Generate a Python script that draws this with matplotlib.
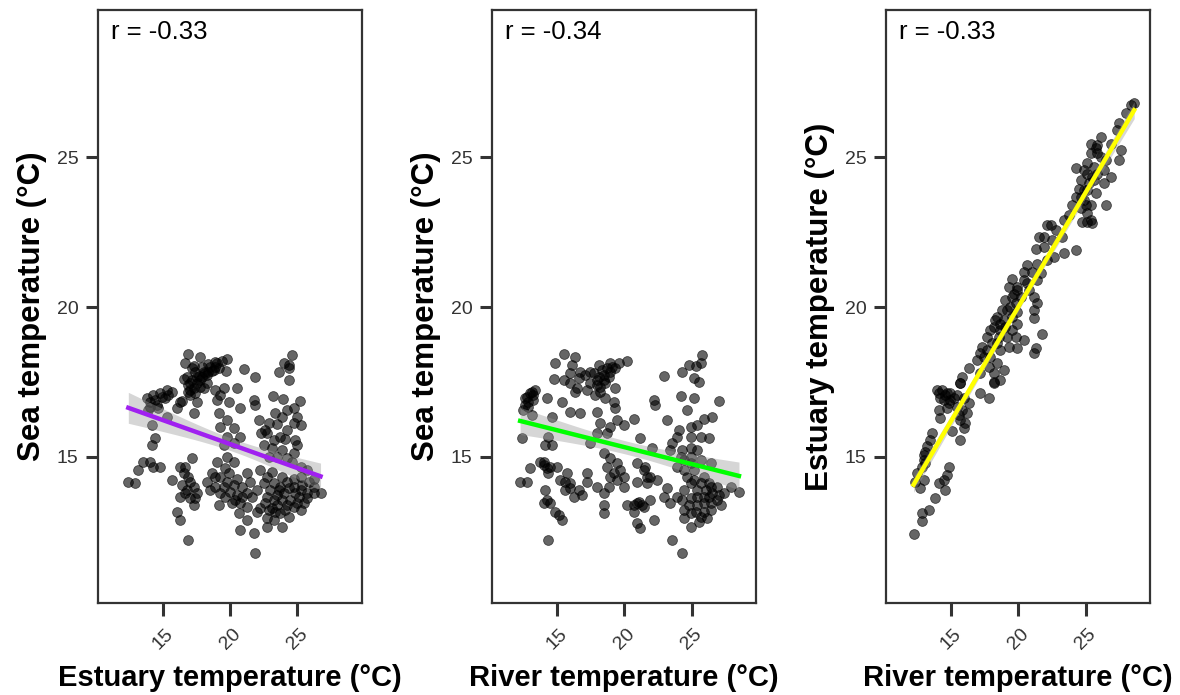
import numpy as np
import matplotlib.pyplot as plt

# panel 1: estuary vs sea
est_x1 = [16.89, 17.76, 16.64, 17.27, 16.52, 17.02, 17.51, 18.01, 18.51, 19.01, 19.38, 19.75,
          18.76, 18.26, 17.76, 17.27, 16.89, 17.76, 18.26, 18.88, 19.5, 19.7, 21.0, 21.82,
          20.5, 17.51, 16.39, 17.02, 19.01, 19.88, 19.26,
          24.6, 23.98, 24.35, 23.66, 24.35, 24.35, 23.16, 23.93, 25.18, 21.74, 21.87, 20.75,
          14.03, 14.4, 14.78, 15.28, 15.65, 15.15, 13.78, 14.65, 15.28, 16.02, 16.27, 17.27,
          14.16, 14.4, 14.16, 13.16, 13.53, 14.28, 14.78, 14.03, 12.41, 12.91,
          16.27, 17.14, 16.64, 16.89, 16.39, 16.77, 17.27, 17.51, 17.02, 16.27, 17.27, 15.65,
          16.02, 16.27, 16.89,
          19.13, 19.75, 20.25, 19.26, 19.75, 20.25, 19.5, 20.75, 19.75, 20.25, 19.01, 18.63,
          19.26, 19.88, 20.5, 21.25, 18.26, 18.88, 19.5, 20.25, 20.87, 21.49, 20.5, 21.25,
          21.99, 19.13, 20.13, 20.75, 21.25, 20.62, 21.25, 20.75, 21.74, 21.87, 18.51, 19.63,
          22.12, 22.86, 22.74, 23.24, 23.73, 24.23, 24.73, 25.23, 24.98, 23.86, 24.23, 24.73,
          23.36, 22.49, 23.11, 23.86, 24.85, 24.73, 24.23, 25.23, 25.72, 23.48, 22.86,
          22.24, 22.74, 23.24, 23.73, 24.23, 24.73, 25.23, 25.72, 26.22, 26.72, 22.74, 23.24,
          23.86, 24.48, 25.1, 25.47, 22.24, 22.86, 23.36, 24.11, 24.73, 23.24, 23.86, 22.74,
          21.99, 25.23, 23.61, 21.62,
          16.77, 17.14, 17.39, 17.64, 17.89, 18.14, 18.38, 18.63, 18.88, 19.13, 16.82, 17.14,
          17.51, 17.89, 18.38, 18.88, 17.02, 17.39, 18.01,
          22.49, 22.99, 23.48, 23.98, 24.35, 24.85, 25.35, 25.85, 26.22, 23.48, 24.23, 24.98,
          25.72, 22.61, 23.11, 23.73, 24.35, 22.74, 24.73, 23.86, 23.11, 25.23, 26.22, 24.6,
          19.75, 19.26, 20.0, 20.87, 20.37, 18.88, 19.63,
          16.52, 17.02, 16.64, 17.39,
          14.28, 14.9, 15.4, 14.03, 14.53, 13.91,
          22.6, 23.5, 24.1, 22.3, 25.0]
sea_y1 = [18.43, 18.34, 18.12, 18.03, 17.59, 17.45, 17.67, 17.84, 18.01, 18.12, 18.21, 18.25,
          17.9, 17.73, 17.56, 17.29, 17.17, 17.34, 17.45, 17.23, 17.29, 17.87, 17.92, 17.67,
          17.29, 16.84, 16.87, 17.06, 16.9, 16.84, 17.06,
          18.4, 18.12, 18.06, 17.84, 17.95, 17.56, 17.03, 16.92, 16.86, 16.9, 16.73, 16.62,
          16.67, 16.9, 17.12, 17.23, 17.17, 16.95, 16.95, 16.62, 16.34, 16.62, 16.84, 16.45,
          16.06, 15.62, 15.4, 14.56, 14.84, 14.67, 14.67, 14.84, 14.17, 14.14,
          14.67, 14.95, 14.67, 14.34, 14.06, 13.9, 14.01, 13.79, 13.62, 13.67, 13.4, 14.23,
          13.17, 12.9, 12.23,
          16.45, 16.23, 15.95, 16.0, 15.67, 15.45, 15.4, 15.67, 15.01, 14.84, 14.84, 14.45,
          14.34, 14.45, 14.28, 14.45, 14.17, 14.01, 14.01, 14.06, 14.01, 14.17, 13.73, 13.79,
          13.9, 13.4, 13.45, 13.45, 13.34, 13.12, 12.9, 12.56, 12.45, 11.79, 13.9, 13.67,
          16.23, 16.12, 15.79, 15.56, 15.67, 15.9, 16.12, 16.06, 16.34, 16.34, 16.56, 16.62,
          16.45, 15.4, 15.29, 15.23, 15.56, 15.12, 14.95, 14.67, 14.56, 15.01, 15.01,
          14.56, 14.34, 14.12, 14.01, 14.17, 14.01, 13.9, 13.79, 14.01, 13.81, 13.67, 13.56,
          13.56, 13.56, 13.67, 13.45, 13.29, 13.23, 13.17, 13.23, 13.34, 12.9, 12.67, 12.95,
          13.17, 13.23, 13.9, 13.67,
          17.67, 17.95, 17.84, 17.7, 17.99, 17.8, 18.09, 17.85, 18.17, 17.95, 17.4, 17.56,
          17.45, 17.67, 17.84, 17.99, 17.23, 17.12, 17.29,
          14.12, 13.9, 13.73, 13.79, 13.95, 13.79, 14.06, 14.17, 13.79, 13.4, 13.4, 13.45,
          13.62, 13.45, 13.29, 13.12, 13.01, 12.67, 14.28, 14.34, 14.51, 14.34, 14.28, 14.84,
          14.17, 13.79, 13.84, 13.67, 13.56, 14.34, 14.62,
          14.45, 14.17, 13.79, 13.62,
          17.06, 17.0, 17.06, 16.84, 16.73, 16.56,
          15.9, 16.1, 15.6, 15.8, 15.4]

# panel 2: river vs sea
riv_x2 = [15.47, 16.34, 14.85, 16.09, 15.97, 16.72, 17.46, 18.08, 18.96, 19.58, 20.2, 14.73,
          15.47, 15.97, 16.47, 16.34, 17.21, 17.96, 18.46, 18.96, 19.33, 18.58, 18.21, 17.84,
          18.58, 19.33, 19.2, 19.33, 17.96, 16.72, 15.97, 15.35, 14.23, 14.6, 12.61, 12.99,
          13.36, 12.86, 13.23, 12.49, 12.36, 14.35, 14.6, 14.1, 13.11, 19.45, 19.95, 20.7,
          18.96, 18.21, 18.71, 17.46, 17.96, 21.19, 22.94, 24.18, 24.3, 24.8, 25.3, 25.8,
          25.67, 25.17, 25.55, 25.17, 24.68, 24.93, 25.42, 25.92, 26.54, 27.04, 22.19, 22.31,
          23.18, 24.05, 23.56, 23.93, 24.93, 25.67, 26.29, 23.43, 24.3, 24.93, 25.42, 22.06,
          18.46, 18.96, 19.45, 18.71, 19.2, 19.95, 20.95, 21.44, 21.94, 21.69, 22.44, 20.95,
          19.95, 18.83, 17.96, 18.46, 17.21, 17.21, 16.59, 16.22, 16.84, 15.6, 15.97, 15.22,
          15.72, 14.98, 14.48, 13.98, 13.73, 14.35, 12.99, 12.24, 12.74, 14.1, 14.23, 13.98,
          14.48, 14.85, 15.35, 15.1, 14.35, 18.46, 18.46, 20.2, 20.95, 21.44, 20.7, 20.95,
          21.19, 22.19, 21.94, 22.94, 23.56, 24.3,
          23.93, 24.43, 24.93, 25.67, 26.42, 25.17, 25.92, 26.29, 26.92, 27.41, 28.53, 27.9,
          24.93, 24.43, 25.42, 25.92, 26.42, 26.92, 24.93, 25.42, 24.43, 24.93, 25.92, 26.17,
          24.43, 24.93, 25.55, 23.93, 23.43, 23.18,
          17.71, 18.08, 18.33, 18.71, 19.08, 18.46, 18.83, 17.96, 17.46, 18.21, 17.09, 16.59,
          12.74, 13.11, 12.86, 13.23, 12.61,
          24.68, 25.17, 25.67, 26.04, 26.54, 27.04, 26.42, 25.42, 25.92, 26.42, 25.3, 24.8,
          24.3, 27.16, 25.67, 26.29, 24.93, 24.43, 24.18,
          20.7, 21.07, 21.32, 18.96, 19.45, 19.7, 21.69, 21.57,
          13.98, 14.23, 15.6, 15.97]
sea_y2 = [18.43, 18.34, 18.12, 18.06, 17.79, 17.84, 17.84, 18.06, 18.12, 18.12, 18.21, 17.59,
          17.56, 17.45, 17.29, 17.17, 17.23, 17.56, 17.73, 17.84, 17.95, 17.45, 17.34, 17.06,
          16.95, 17.29, 16.84, 16.62, 16.51, 16.45, 16.51, 16.84, 16.95, 16.34, 16.95, 17.12,
          17.23, 16.67, 16.9, 16.56, 15.62, 15.67, 15.4, 15.4, 16.4, 16.23, 16.06, 16.28,
          16.0, 16.12, 15.79, 15.45, 15.79, 15.62, 17.7, 17.03, 17.84, 18.06, 18.03, 18.4,
          18.14, 17.62, 17.51, 16.95, 16.56, 16.0, 16.06, 16.28, 16.34, 16.86, 16.9, 16.73,
          16.23, 15.9, 15.45, 15.67, 15.67, 15.67, 15.62, 15.23, 15.23, 15.29, 15.23, 15.29,
          15.12, 14.95, 14.79, 14.67, 14.45, 14.34, 14.79, 14.56, 14.34, 14.12, 14.23, 14.17,
          14.01, 14.01, 14.01, 13.79, 14.17, 14.45, 13.9, 13.67, 13.73, 13.9, 14.12, 14.23,
          14.45, 14.67, 14.67, 14.73, 14.84, 14.45, 14.62, 14.17, 14.17, 13.9, 13.56, 13.45,
          13.45, 13.17, 12.9, 13.06, 12.23, 13.4, 13.12, 13.4, 13.45, 13.34, 13.17, 12.79,
          12.62, 12.9, 13.56, 13.67, 12.23, 11.79,
          14.67, 14.9, 15.01, 14.9, 14.79, 14.56, 14.34, 14.12, 14.01, 13.79, 13.84, 14.01,
          14.12, 13.9, 13.9, 13.67, 13.45, 13.56, 13.62, 13.4, 13.23, 13.12, 13.17, 12.95,
          12.95, 12.67, 12.84, 13.67, 13.45, 13.95,
          17.79, 17.67, 17.9, 17.95, 18.01, 17.56, 17.67, 17.4, 17.45, 17.17, 17.73, 17.62,
          17.01, 17.17, 16.84, 17.06, 16.73,
          14.34, 14.23, 14.12, 13.9, 13.79, 13.73, 14.01, 13.67, 13.45, 13.23, 13.17, 13.4,
          13.56, 13.4, 13.01, 13.67, 14.79, 14.56, 15.01,
          13.4, 13.51, 13.4, 14.34, 14.23, 14.56, 14.34, 14.67,
          14.84, 14.62, 14.17, 13.95]

# panel 3: river vs estuary
riv_x3 = [28.61, 28.36, 27.98, 27.49, 27.36, 26.12, 25.37, 25.87, 26.86, 27.61, 27.49, 25.37,
          25.87, 25.12, 24.25, 24.87, 25.62, 26.36, 26.86, 26.36, 25.62, 24.63, 24.5, 25.12,
          25.75, 24.25, 24.87, 25.37, 26.49, 24.63, 25.12, 24.0, 24.75, 25.5, 23.38, 23.75,
          22.14, 22.39, 22.76, 21.89, 21.52, 22.51, 23.26, 21.27, 21.89, 23.38, 24.25, 22.64,
          22.14, 21.39, 20.65, 21.02, 20.4, 21.64, 21.39, 20.65, 19.9, 19.53, 19.28, 19.65,
          20.15, 20.77, 21.14, 21.39, 21.14, 21.14, 19.03, 19.4, 18.78, 18.41, 18.9, 19.53,
          19.9, 19.9, 18.16, 17.91, 18.66, 19.15, 19.78, 20.4, 21.76, 21.27, 21.14, 17.66,
          17.29, 18.41, 19.28, 19.9, 17.16, 17.91, 18.41, 18.9, 18.16, 17.79, 16.91, 16.29,
          15.8, 15.67, 17.16, 18.16,
          13.93, 14.3, 14.68, 14.43, 14.92, 15.42, 15.67, 15.92, 16.29, 17.16, 17.78, 18.16,
          18.66, 16.17, 16.04, 15.67, 15.92, 15.05, 15.67, 14.05, 14.18, 14.68, 13.56, 13.43,
          13.18, 13.06, 12.93, 12.81, 12.44, 12.31, 12.93, 12.69, 14.8, 14.68, 14.43, 14.05,
          14.55, 13.8, 13.31, 12.81, 12.81, 12.19,
          18.28, 18.66, 19.03, 19.15, 19.53, 19.78, 18.53, 18.03, 17.66, 17.41, 18.66, 19.53,
          19.9, 20.4,
          25.12, 25.5, 25.87, 25.25, 24.87, 26.12, 25.75, 26.49, 24.63, 25.0, 25.37, 25.12,
          14.05, 14.55, 14.92, 14.18, 15.17, 14.8, 15.42, 15.55, 15.8, 12.93, 13.06]
est_y3 = [26.79, 26.73, 26.47, 26.12, 25.9, 25.67, 25.45, 25.4, 25.45, 25.23, 24.9, 25.12,
          25.12, 24.79, 24.62, 24.56, 24.67, 24.56, 24.34, 24.12, 24.23, 24.23, 23.95, 23.9,
          23.79, 23.67, 23.56, 23.4, 23.4, 23.29, 23.12, 23.4, 22.84, 22.81, 22.9, 23.06,
          22.73, 22.73, 22.56, 22.34, 22.34, 22.23, 22.34, 21.95, 22.01, 21.79, 21.9, 21.67,
          21.56, 21.45, 21.4, 21.17, 21.17, 21.12, 20.9, 20.79, 20.68, 20.95, 20.68, 20.45,
          20.34, 20.56, 20.34, 20.12, 19.9, 19.62, 20.23, 20.01, 19.9, 19.68, 19.56, 19.68,
          19.84, 19.45, 19.34, 19.23, 19.23, 19.01, 19.01, 18.9, 19.1, 18.62, 18.45, 19.01,
          18.67, 18.79, 18.67, 18.62, 18.45, 18.34, 18.12, 17.9, 17.79, 18.01, 18.23, 17.95,
          17.67, 17.45, 17.79, 17.5,
          17.24, 17.24, 17.13, 16.9, 16.9, 17.07, 17.46, 16.96, 16.79, 17.13, 16.96, 17.46,
          17.57, 16.46, 16.13, 16.24, 15.96, 15.85, 15.57, 16.57, 16.29, 16.63, 15.79, 15.57,
          15.35, 15.18, 14.9, 14.68, 14.46, 14.18, 14.24, 13.96, 14.68, 14.4, 14.24, 14.13,
          13.9, 13.63, 13.24, 13.13, 12.85, 12.44,
          19.56, 19.45, 19.34, 19.9, 20.34, 20.12, 19.01, 18.79, 18.56, 18.34, 18.56, 19.23,
          20.56, 20.9,
          24.45, 24.34, 24.45, 24.12, 23.9, 25.01, 25.29, 24.9, 23.67, 23.4, 22.9, 22.84,
          17.13, 17.07, 17.13, 16.96, 16.96, 16.79, 16.68, 16.4, 16.57, 15.07, 14.79]

panels = [
    (est_x1, sea_y1, '#A020F0', 'Estuary temperature (°C)', 'Sea temperature (°C)', 'r = -0.33'),
    (riv_x2, sea_y2, '#00FF00', 'River temperature (°C)', 'Sea temperature (°C)', 'r = -0.34'),
    (riv_x3, est_y3, '#FFFF00', 'River temperature (°C)', 'Estuary temperature (°C)', 'r = -0.33'),
]

plt.rcParams['font.family'] = ['Liberation Sans', 'DejaVu Sans']

fig = plt.figure(figsize=(11.8, 6.95), dpi=100)
lefts = [0.083, 0.417, 0.751]

for left, (xs, ys, col, xlab, ylab, rtxt) in zip(lefts, panels):
    ax = fig.add_axes([left, 0.1324, 0.2237, 0.853])
    x = np.array(xs)
    y = np.array(ys)
    ax.scatter(x, y, s=50, c='black', alpha=0.6, edgecolors='black', linewidths=0.6, zorder=2)

    # lm fit with 95% band
    b, a = np.polyfit(x, y, 1)
    xf = np.linspace(x.min(), x.max(), 100)
    yf = a + b * xf
    n = len(x)
    resid = y - (a + b * x)
    s = np.sqrt(np.sum(resid ** 2) / (n - 2))
    se = s * np.sqrt(1 / n + (xf - x.mean()) ** 2 / np.sum((x - x.mean()) ** 2))
    ax.fill_between(xf, yf - 1.97 * se, yf + 1.97 * se, color='#999999', alpha=0.4, lw=0, zorder=3)
    ax.plot(xf, yf, color=col, lw=3.2, zorder=4)

    ax.set_xlim(10.15, 29.8)
    ax.set_ylim(10.13, 29.9)
    ax.set_xticks([15, 20, 25])
    ax.set_yticks([15, 20, 25])
    for sp in ax.spines.values():
        sp.set_linewidth(1.6)
        sp.set_color('#333333')
    ax.tick_params(length=9, width=2.2, color='#333333', labelcolor='#333333', labelsize=14)
    ax.tick_params(axis='x', pad=7)
    ax.tick_params(axis='y', pad=5)
    plt.setp(ax.get_xticklabels(), rotation=45, ha='center')
    ax.set_xlabel(xlab, fontsize=21, fontweight='bold', labelpad=8)
    ax.set_ylabel(ylab, fontsize=22.5, fontweight='bold', labelpad=7)
    ax.text(0.05, 0.963, rtxt, transform=ax.transAxes, fontsize=18.5, va='center', ha='left')

fig.savefig('out.png', dpi=100)
